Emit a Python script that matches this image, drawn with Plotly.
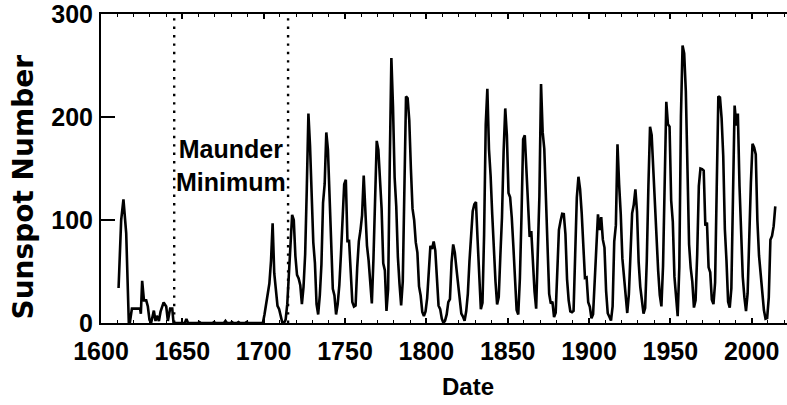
import plotly.graph_objects as go

# Early telescopic record (irregular sampling), 1610-1700
early_years = [1610.8, 1612.4, 1613.8, 1615.5, 1617.1, 1617.7, 1619.0, 1624.0, 1624.5,
               1625.3, 1626.4, 1627.8, 1628.8, 1629.8, 1630.8, 1632.5, 1633.5, 1634.3,
               1635.6, 1636.6, 1638.5, 1640.1, 1641.1, 1642.5, 1643.8, 1644.6, 1651.5,
               1652.5, 1653.5, 1659.5, 1660.5, 1661.5, 1668.5, 1669.5, 1670.5, 1675.5,
               1676.5, 1677.5, 1679.5, 1680.5, 1681.5, 1683.5, 1684.5, 1685.5, 1688.5,
               1689.5, 1690.5, 1699.5]
early_ssn = [34, 100, 120, 87, 0, 0, 14, 14, 9,
             41, 22, 22, 16, 3, 0, 12, 2, 7,
             2, 11, 20, 16, 2, 14, 14, 0, 0,
             4, 0, 0, 1, 0, 0, 1, 0, 0,
             2, 0, 0, 1, 0, 0, 1, 0, 0,
             1, 0, 0]

# Yearly means, 1700-2014 (plotted at mid-year)
first_year = 1700
yearly_ssn = [
    8.3, 18.3, 26.7, 38.3, 60.0, 96.7, 48.3, 33.3, 16.7, 13.3,      # 1700
    5.0, 0.0, 0.0, 3.3, 18.3, 45.0, 78.3, 105.0, 100.0, 65.0,       # 1710
    46.7, 43.3, 36.7, 18.3, 35.0, 66.7, 130.0, 203.3, 171.7, 121.7, # 1720
    78.3, 58.3, 18.3, 8.3, 26.7, 56.7, 116.7, 135.0, 185.0, 168.3,  # 1730
    121.7, 66.7, 33.3, 26.7, 8.3, 18.3, 36.7, 66.7, 100.0, 134.8,   # 1740
    139.0, 79.5, 79.7, 51.2, 20.3, 16.0, 17.0, 54.0, 79.3, 90.0,    # 1750
    104.8, 143.2, 102.0, 75.2, 60.7, 34.8, 19.0, 63.0, 116.3, 176.8, # 1760
    168.0, 136.0, 110.8, 58.0, 51.0, 11.7, 33.0, 154.2, 257.3, 209.8, # 1770
    141.3, 113.5, 64.2, 38.0, 17.0, 40.2, 138.2, 220.0, 218.2, 196.8, # 1780
    149.8, 111.0, 100.0, 78.2, 68.3, 35.5, 26.7, 10.7, 6.8, 11.3,   # 1790
    24.2, 56.7, 75.0, 71.8, 79.2, 70.3, 46.8, 16.8, 13.5, 4.2,      # 1800
    0.0, 2.3, 8.3, 20.3, 23.2, 59.0, 76.3, 68.3, 52.9, 38.5,        # 1810
    24.2, 9.2, 6.3, 2.2, 11.4, 28.2, 59.9, 83.0, 108.5, 115.2,      # 1820
    117.4, 80.8, 44.3, 13.4, 19.5, 85.8, 192.7, 227.3, 168.7, 143.0, # 1830
    105.5, 63.3, 40.3, 18.1, 25.1, 65.8, 102.7, 166.3, 208.3, 182.5, # 1840
    126.3, 122.0, 102.7, 74.1, 39.0, 12.7, 8.2, 43.4, 104.4, 178.3, # 1850
    182.2, 146.6, 112.1, 83.5, 89.2, 57.8, 30.7, 13.9, 62.8, 123.6, # 1860
    232.0, 185.3, 169.2, 110.1, 74.5, 28.3, 18.9, 20.7, 5.7, 10.0,  # 1870
    53.7, 90.5, 99.0, 106.1, 105.8, 86.3, 42.4, 21.8, 11.2, 10.4,   # 1880
    11.8, 59.5, 121.7, 142.0, 130.0, 106.6, 69.4, 43.8, 44.4, 20.2, # 1890
    15.7, 4.6, 8.5, 40.8, 70.1, 105.5, 90.1, 102.8, 80.9, 73.2,     # 1900
    30.9, 9.5, 6.0, 2.4, 16.1, 79.0, 95.0, 173.6, 134.6, 105.7,     # 1910
    62.7, 43.5, 23.7, 9.7, 27.9, 74.0, 106.5, 114.7, 129.7, 108.2,  # 1920
    59.4, 35.1, 18.6, 9.2, 14.6, 60.2, 132.8, 190.6, 182.6, 148.0,  # 1930
    113.0, 79.2, 50.8, 27.1, 16.1, 55.3, 154.3, 214.7, 193.0, 190.7, # 1940
    118.9, 98.3, 45.0, 20.1, 6.6, 54.2, 200.7, 269.3, 261.7, 225.1, # 1950
    159.0, 76.4, 53.4, 39.9, 15.0, 22.0, 66.8, 132.9, 150.0, 149.4, # 1960
    148.0, 94.4, 97.6, 54.1, 49.2, 22.5, 18.4, 39.3, 131.0, 220.1,  # 1970
    218.9, 198.9, 162.4, 91.0, 60.5, 20.6, 14.8, 33.9, 123.0, 211.1, # 1980
    191.8, 203.3, 133.0, 76.1, 44.9, 25.1, 11.6, 28.9, 88.3, 136.3, # 1990
    173.9, 170.4, 163.6, 99.3, 65.3, 45.8, 24.7, 12.6, 4.2, 4.8,    # 2000
    24.9, 80.8, 84.5, 94.0, 113.3,                                  # 2010
]
yearly_years = [first_year + i + 0.5 for i in range(len(yearly_ssn))]

# Boundaries of the Maunder Minimum
maunder_start = 1645
maunder_end = 1715

x_ticks = [1600, 1650, 1700, 1750, 1800, 1850, 1900, 1950, 2000]
y_ticks = [0, 100, 200, 300]

years = early_years + yearly_years
ssn = early_ssn + yearly_ssn

FONT = "Arial, 'Liberation Sans', sans-serif"
WIDE_FONT = "'DejaVu Sans', Verdana, sans-serif"

fig = go.Figure()
fig.add_trace(go.Scatter(
    x=years, y=ssn, mode="lines",
    line=dict(color="black", width=2.6),
    hoverinfo="x+y", showlegend=False,
))

for yr in (maunder_start, maunder_end):
    fig.add_shape(type="line", xref="x", yref="paper", x0=yr, x1=yr, y0=0, y1=1,
                  line=dict(color="black", width=2.4, dash="2.4px,6px"))

fig.add_annotation(
    x=1680, y=153, xref="x", yref="y",
    text="Maunder<br>Minimum", showarrow=False,
    font=dict(family=FONT, size=25, color="black", weight="bold"),
    align="center", xanchor="center", yanchor="middle",
)

# Axis titles placed explicitly
fig.add_annotation(
    x=-0.113, y=0.44, xref="paper", yref="paper",
    text="Sunspot Number", textangle=-90, showarrow=False,
    font=dict(family=WIDE_FONT, size=28, color="black", weight="bold"),
    xanchor="center", yanchor="middle",
)
fig.add_annotation(
    x=0.535, y=-0.205, xref="paper", yref="paper",
    text="Date", showarrow=False,
    font=dict(family=FONT, size=24, color="black", weight="bold"),
    xanchor="center", yanchor="middle",
)

fig.update_xaxes(
    range=[1600, 2021.7], tickmode="array", tickvals=x_ticks,
    ticktext=[str(t) for t in x_ticks],
    ticks="inside", ticklen=5, tickwidth=1.6, tickcolor="black",
    minor=dict(dtick=10, tick0=1600, ticks="inside", ticklen=3, tickwidth=1.4, tickcolor="black"),
    showline=True, linecolor="black", linewidth=2, mirror="ticks",
    showgrid=False, zeroline=False,
    ticklabelstandoff=5, ticklabeloverflow="allow",
    tickfont=dict(family=FONT, size=25, color="black", weight="bold"),
)
fig.update_yaxes(
    range=[0, 300], tickmode="array", tickvals=y_ticks,
    ticktext=[str(t) for t in y_ticks],
    ticks="inside", ticklen=14, tickwidth=1.8, tickcolor="black",
    showline=True, linecolor="black", linewidth=2, mirror=False,
    showgrid=False, zeroline=False,
    ticklabelstandoff=1, ticklabeloverflow="allow",
    tickfont=dict(family=FONT, size=25, color="black", weight="bold"),
)

fig.update_layout(
    width=787, height=405,
    margin=dict(l=101, r=0, t=14, b=82),
    paper_bgcolor="white", plot_bgcolor="white",
)

fig.write_html("out.html")
